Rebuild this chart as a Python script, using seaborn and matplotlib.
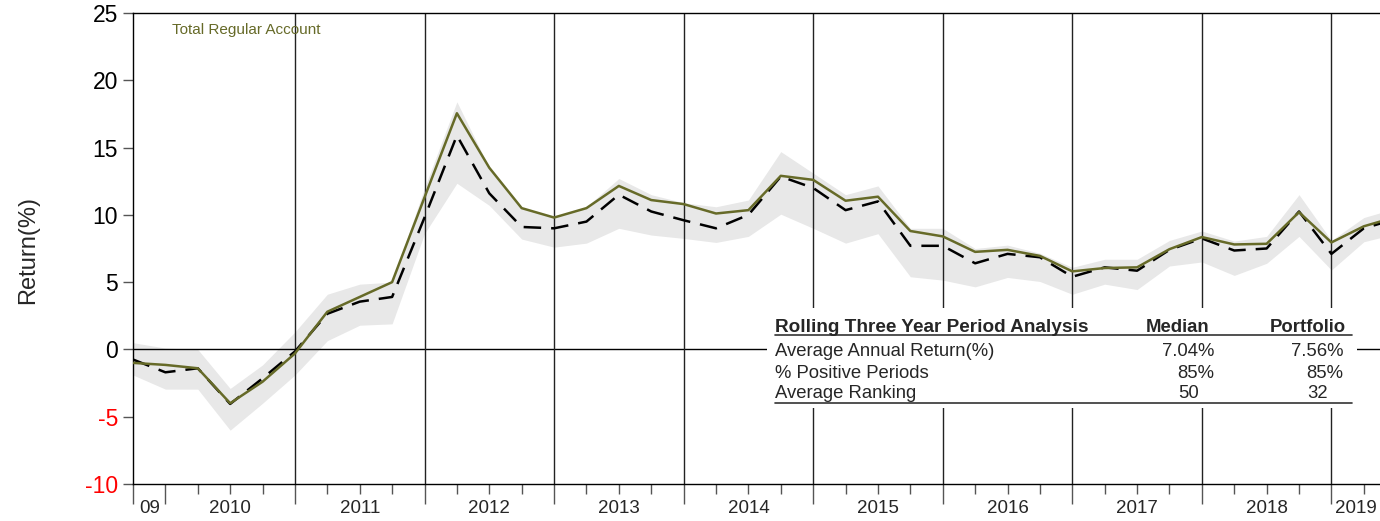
import numpy as np
import pandas as pd
import matplotlib
import matplotlib.pyplot as plt
from matplotlib.patches import Rectangle
from matplotlib.lines import Line2D
import seaborn as sns

matplotlib.use('agg')

# quarterly rolling three-year returns (%), index 0 = last quarter of 2009
quarter = np.arange(40)
portfolio = [-1.0, -1.15, -1.4, -4.0, -2.4, -0.3, 2.8, 3.9, 5.0, 11.3,
             17.55, 13.5, 10.5, 9.8, 10.5, 12.15, 11.1, 10.8, 10.1, 10.35,
             12.9, 12.6, 11.05, 11.35, 8.8, 8.4, 7.25, 7.4, 6.95, 5.8,
             6.05, 6.1, 7.45, 8.35, 7.8, 7.85, 10.2, 7.95, 9.15, 9.85]
median = [-0.75, -1.7, -1.4, -4.05, -2.15, -0.15, 2.65, 3.55, 3.9, 9.8,
          15.9, 11.6, 9.1, 9.0, 9.5, 11.5, 10.25, 9.6, 9.0, 10.0,
          12.85, 12.0, 10.35, 11.0, 7.7, 7.7, 6.4, 7.1, 6.85, 5.4,
          6.1, 5.85, 7.4, 8.25, 7.35, 7.5, 10.25, 7.1, 9.0, 9.7]
band_high = [0.5, 0.1, 0.0, -2.9, -1.15, 1.3, 4.1, 4.85, 5.0, 12.0,
             18.4, 13.5, 10.55, 9.8, 10.6, 12.7, 11.5, 10.9, 10.6, 11.1,
             14.7, 13.1, 11.5, 12.15, 9.0, 9.0, 7.5, 7.75, 7.15, 6.1,
             6.7, 6.7, 8.1, 8.8, 8.05, 8.4, 11.5, 8.1, 9.8, 10.5]
band_low = [-1.9, -2.95, -2.95, -6.0, -4.0, -1.9, 0.65, 1.8, 1.9, 8.6,
            12.35, 10.7, 8.2, 7.6, 7.9, 9.0, 8.5, 8.25, 7.95, 8.4,
            10.05, 9.0, 7.9, 8.6, 5.4, 5.15, 4.65, 5.35, 5.05, 4.1,
            4.85, 4.45, 6.2, 6.5, 5.5, 6.4, 8.4, 5.9, 8.0, 8.6]

year_labels = ['09', '2010', '2011', '2012', '2013', '2014', '2015',
               '2016', '2017', '2018', '2019']
year_starts = [0, 1, 5, 9, 13, 17, 21, 25, 29, 33, 37]
x_end = 38.5
y_ticks = [-10, -5, 0, 5, 10, 15, 20, 25]

table_title = 'Rolling Three Year Period Analysis'
table_rows = ['Average Annual Return(%)', '% Positive Periods', 'Average Ranking']
median_stats = ['7.04%', '85%', '50']
portfolio_stats = ['7.56%', '85%', '32']

olive = '#666a28'

sns.set_style('white')
plt.rcParams['font.family'] = ['Liberation Sans', 'DejaVu Sans']

df = pd.DataFrame({'quarter': quarter, 'portfolio': portfolio, 'median': median})

W, H = 1380, 521


def fpos(x, y):
    """pixel position -> figure fraction"""
    return x / W, 1 - y / H


fig = plt.figure(figsize=(13.8, 5.21), dpi=100)
ax = fig.add_axes([133 / W, 1 - 484 / H, 1 - 133 / W, (484 - 13) / H])

ax.fill_between(quarter, band_low, band_high, color='#e8e8e8', lw=0, zorder=1)
ax.axhline(0, color='black', lw=1, zorder=2)
for x in year_starts[2:]:
    ax.axvline(x, color='#222222', lw=1, zorder=2)

sns.lineplot(data=df, x='quarter', y='median', ax=ax, color='black', lw=1.8,
             linestyle=(0, (7, 4)), zorder=4)
sns.lineplot(data=df, x='quarter', y='portfolio', ax=ax, color=olive, lw=1.8,
             zorder=5)

ax.set_xlim(0, x_end)
ax.set_ylim(-10, 25)
ax.set_xlabel('')
ax.set_ylabel('')

ax.spines['right'].set_visible(False)
for s in ['left', 'top', 'bottom']:
    ax.spines[s].set_color('black')
    ax.spines[s].set_linewidth(1)

ax.set_yticks(y_ticks)
ax.set_yticklabels([str(v) for v in y_ticks])
for lab, v in zip(ax.get_yticklabels(), y_ticks):
    lab.set_color('red' if v < 0 else 'black')
ax.tick_params(axis='y', direction='out', length=7.2, width=1, color='#555555',
               labelsize=16.5, pad=3.5, left=True)

major = year_starts
minor = [q for q in range(int(x_end) + 1) if q not in major]
ax.set_xticks(major)
ax.set_xticks(minor, minor=True)
ax.set_xticklabels([])
ax.tick_params(axis='x', which='major', direction='out', length=14.4, width=1,
               color='#555555', bottom=True)
ax.tick_params(axis='x', which='minor', direction='out', length=7.2, width=1,
               color='#555555', bottom=True)

ends = year_starts[1:] + [x_end]
for lab, a, b in zip(year_labels, year_starts, ends):
    ax.text((a + b) / 2, -0.051, lab, transform=ax.get_xaxis_transform(),
            ha='center', va='center', fontsize=13.5, clip_on=False)

fig.text(*fpos(28, 250), 'Return(%)', rotation=90, ha='center', va='center',
         fontsize=17)
ax.text(*fpos(172, 30), 'Total Regular Account', transform=fig.transFigure,
        ha='left', va='center', fontsize=11, color=olive)

# summary table on a white box
x0, y0 = fpos(767, 408)
x1, y1 = fpos(1357, 308)
fig.add_artist(Rectangle((x0, y0), x1 - x0, y1 - y0, transform=fig.transFigure,
                         facecolor='white', edgecolor='none', zorder=1))
fig.text(*fpos(775, 327), table_title, ha='left', va='center', fontsize=13.7,
         fontweight='bold', zorder=3)
fig.text(*fpos(1178, 327), 'Median', ha='center', va='center', fontsize=13.3,
         fontweight='bold', zorder=3)
fig.text(*fpos(1308, 327), 'Portfolio', ha='center', va='center', fontsize=13.3,
         fontweight='bold', zorder=3)
for (lx, ly), (rx, ry) in [((775, 335), (1352, 335)), ((775, 403), (1352, 403))]:
    a = fpos(lx, ly)
    b = fpos(rx, ry)
    fig.add_artist(Line2D([a[0], b[0]], [a[1], b[1]], transform=fig.transFigure,
                          color='#333333', lw=1.2, zorder=3))
row_y = [352, 373, 394]
for label, m, p, y in zip(table_rows, median_stats, portfolio_stats, row_y):
    fig.text(*fpos(775, y), label, ha='left', va='center', fontsize=13.3, zorder=3)
    mx = 1214 if m.endswith('%') else 1199
    px = 1343 if p.endswith('%') else 1328
    fig.text(*fpos(mx, y), m, ha='right', va='center', fontsize=13.3, zorder=3)
    fig.text(*fpos(px, y), p, ha='right', va='center', fontsize=13.3, zorder=3)

plt.savefig('out.png', dpi=100)
